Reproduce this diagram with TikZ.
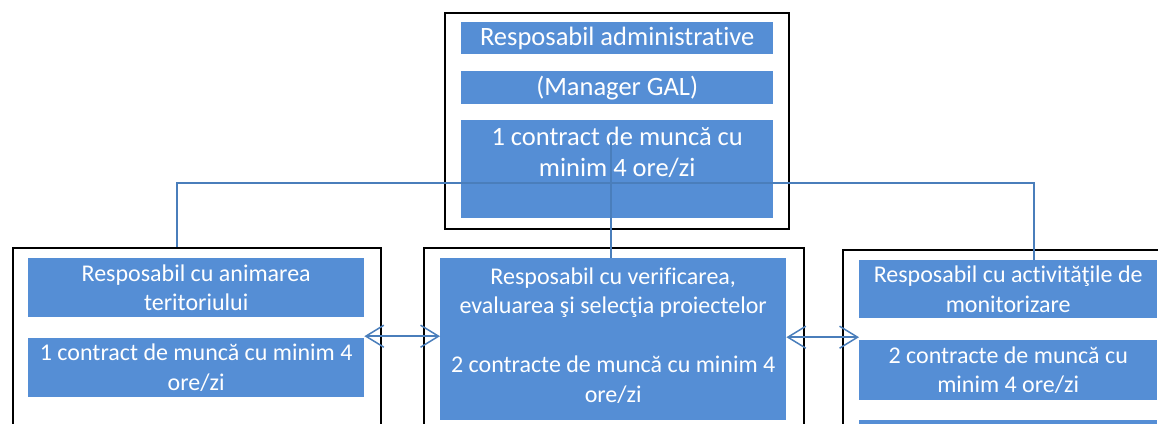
\documentclass[tikz,border=0pt]{standalone}
\usepackage{fontspec}
\setmainfont{Carlito}[Ligatures=NoCommon]
\usetikzlibrary{positioning,arrows.meta}
\definecolor{boxblue}{RGB}{85,142,213}
\definecolor{linkblue}{RGB}{74,126,187}

\begin{document}
\begin{tikzpicture}[%
    x=1pt, y=-1pt,
    >={Straight Barb[length=18pt,width=22pt,line width=1.5pt]},
    sz/.style 2 args={minimum width=#1, minimum height=#2},
    frame/.style={draw, line width=1.8pt, inner sep=0pt, anchor=north west},
    bluebox/.style={fill=boxblue, text=white, inner sep=0pt, align=center,
      anchor=north west, font=\fontsize{24}{29.5}\selectfont},
    admbox/.style={bluebox, font=\fontsize{26.5}{31}\selectfont},
    link/.style={draw=linkblue, line width=1.5pt},
    biarrow/.style={link, <->},
  ]
    \path[use as bounding box, clip] (0,0) rectangle (1158,423);

    \node[frame, sz={344}{216}] (fAdm) at (444,12) {};
    \node[admbox, sz={312}{32}] (adm1) at (461,22) {Resposabil administrative};
    \node[admbox, sz={312}{33}] (adm2) at (461,71) {(Manager GAL)};
    \node[admbox, sz={312}{98}] (adm3) at (461,120)
      {\begin{minipage}[c][98pt][t]{312pt}\centering\vspace*{7pt}
        1 contract de muncă cu\\ minim 4 ore/zi\end{minipage}};

    \node[frame, sz={368}{300}] (fAnim) at (12,247) {};
    \node[bluebox, sz={336}{59}] (anim1) at (28,258) {Resposabil cu animarea\\ teritoriului};
    \node[bluebox, sz={336}{59}] (anim2) at (28,338) {1 contract de muncă cu minim 4\\ ore/zi};

    \node[frame, sz={380}{300}] (fVerif) at (423,247) {};
    \node[bluebox, sz={346}{162}] (verif) at (440,258)
      {Resposabil cu verificarea,\\ evaluarea şi selecţia proiectelor\\ \mbox{}\\
       2 contracte de muncă cu minim 4\\ ore/zi\\[-21pt]\mbox{}};

    \node[frame, sz={400}{300}] (fMon) at (842,249) {};
    \node[bluebox, sz={298}{58}] (mon1) at (859,260) {Resposabil cu activităţile de\\ monitorizare};
    \node[bluebox, sz={298}{60}] (mon2) at (859,340) {2 contracte de muncă cu\\ minim 4 ore/zi};
    \node[bluebox, sz={298}{40}] (mon3) at (859,420) {};

    \coordinate (busL) at (177,183);
    \coordinate (busR) at (1034,183);
    \coordinate (admOut) at (611,139);

    \path[link]
    (busL |- fAnim.north) -- (busL) -- (busR) -- (busR |- mon1.north)
    (admOut) -- (admOut |- verif.north)
    ;
    \draw[biarrow] ([yshift=3pt]verif.west -| anim2.east) -- ([yshift=3pt]verif.west);
    \draw[biarrow] ([yshift=2pt]verif.east) -- ([yshift=2pt]verif.east -| mon2.west);
  \end{tikzpicture}
\end{document}
